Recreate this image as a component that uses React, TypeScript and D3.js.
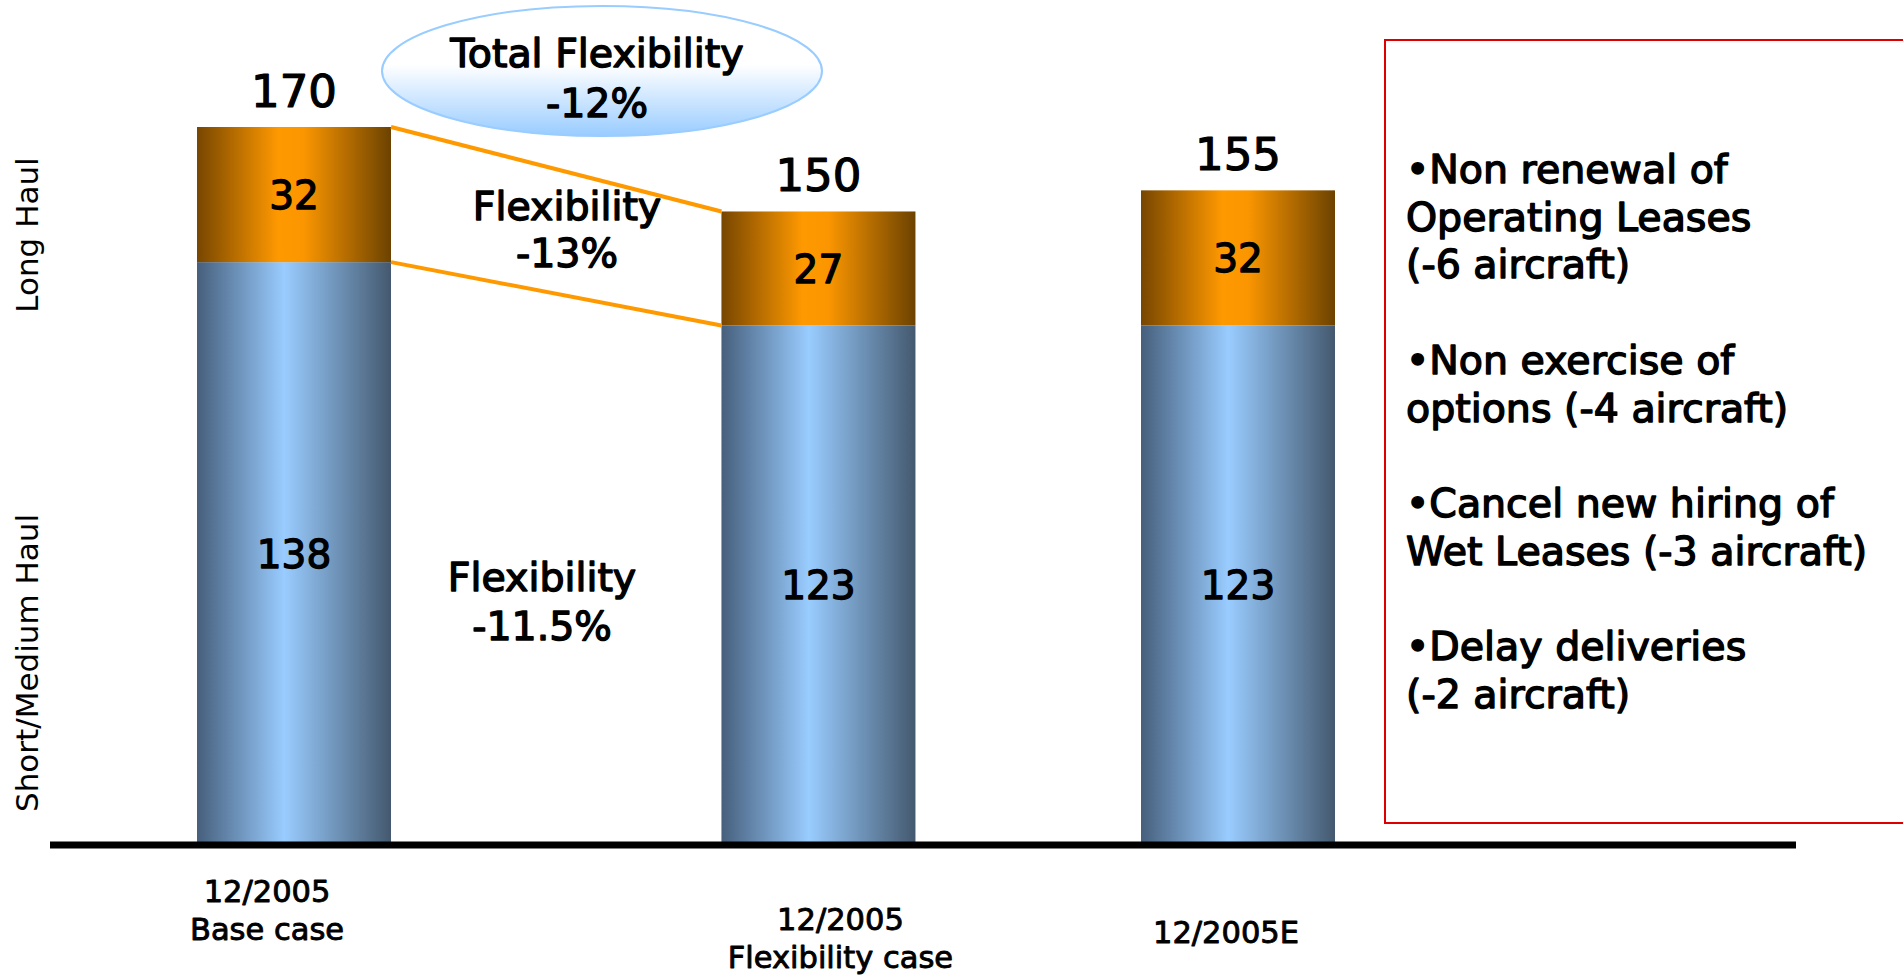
import React from 'react';
import * as d3 from 'd3';

// ---------- data ----------
const categoryLines: string[][] = [['12/2005', 'Base case'], ['12/2005', 'Flexibility case'], ['12/2005E']];
const shortMediumHaul = [138, 123, 123];
const longHaul = [32, 27, 32];
const totals = [170, 150, 155];
const seriesNames = ['Short/Medium Haul', 'Long Haul'];
const totalFlexLines = ['Total Flexibility', '-12%'];
const longFlexLines = ['Flexibility', '-13%'];
const shortFlexLines = ['Flexibility', '-11.5%'];
const measures: string[][] = [
  ['•Non renewal of', 'Operating Leases', '(-6 aircraft)'],
  ['•Non exercise of', 'options (-4 aircraft)'],
  ['•Cancel new hiring of', 'Wet Leases (-3 aircraft)'],
  ['•Delay deliveries', '(-2 aircraft)'],
];

// ---------- layout ----------
const W = 1903;
const H = 975;
const BASE = 845;
const TOP = 127;
const barSlots = [0, 5, 9];
const barW = 194;
const catDx = [-27, 22, -12];
const catY = [902, 930, 943];
const FONT = '"DejaVu Sans", Verdana, sans-serif';

export default function App() {
  const rows = shortMediumHaul.map((s, i) => ({ i, short: s, long: longHaul[i] }));
  const stack = d3.stack<any>().keys(['short', 'long']);
  const series = stack(rows);

  const y = d3.scaleLinear().domain([0, d3.max(totals) as number]).range([BASE, TOP]);
  const x = d3.scaleLinear().domain([0, 9]).range([294, 1238]);
  const cx = (i: number) => x(barSlots[i]);

  const boldish = (w: number) => ({ fill: '#000', stroke: '#000', strokeWidth: w, paintOrder: 'stroke', strokeLinejoin: 'round' } as any);

  // connector lines between bar 1 and bar 2
  const connectors = [
    { x1: cx(0) + barW / 2, y1: y(totals[0]), x2: cx(1) - barW / 2, y2: y(totals[1]) },
    { x1: cx(0) + barW / 2, y1: y(shortMediumHaul[0]), x2: cx(1) - barW / 2, y2: y(shortMediumHaul[1]) },
  ];

  let lineIdx = 0;
  const measureLines: { text: string; k: number }[] = [];
  measures.forEach((g, gi) => {
    g.forEach((t) => {
      measureLines.push({ text: t, k: lineIdx });
      lineIdx += 1;
    });
    if (gi < measures.length - 1) lineIdx += 1;
  });

  return (
    <svg
      width={W}
      height={H}
      style={{ position: 'absolute', left: 0, top: 0, display: 'block', background: '#fff' }}
      fontFamily={FONT}
    >
      <defs>
        <linearGradient id="gBlue" x1="0" x2="1" y1="0" y2="0">
          <stop offset="0" stopColor="#465f7c" />
          <stop offset="0.45" stopColor="#99ccff" />
          <stop offset="1" stopColor="#44596f" />
        </linearGradient>
        <linearGradient id="gOrange" x1="0" x2="1" y1="0" y2="0">
          <stop offset="0" stopColor="#774600" />
          <stop offset="0.42" stopColor="#ff9900" />
          <stop offset="0.55" stopColor="#fb9600" />
          <stop offset="1" stopColor="#6c4200" />
        </linearGradient>
        <linearGradient id="gEllipse" x1="0" x2="0" y1="0" y2="1">
          <stop offset="0" stopColor="#ffffff" />
          <stop offset="0.45" stopColor="#ffffff" />
          <stop offset="1" stopColor="#99ccff" />
        </linearGradient>
      </defs>

      {/* y-axis series labels */}
      <text
        transform={`translate(38, 235) rotate(-90)`}
        textAnchor="middle"
        fontSize={31}
        fill="#000"
      >
        {seriesNames[1]}
      </text>
      <text
        transform={`translate(38, 663) rotate(-90)`}
        textAnchor="middle"
        fontSize={31}
        fill="#000"
      >
        {seriesNames[0]}
      </text>

      {/* bars */}
      {series.map((s, si) => (
        <g key={si}>
          {s.map((d, i) => (
            <rect
              key={i}
              x={cx(i) - barW / 2}
              y={y(d[1])}
              width={barW}
              height={y(d[0]) - y(d[1])}
              fill={si === 0 ? 'url(#gBlue)' : 'url(#gOrange)'}
            />
          ))}
        </g>
      ))}

      {/* baseline axis */}
      <line x1={50} x2={1796} y1={BASE} y2={BASE} stroke="#000" strokeWidth={7} />

      {/* connectors */}
      {connectors.map((c, i) => (
        <line key={i} x1={c.x1} y1={c.y1} x2={c.x2} y2={c.y2} stroke="#ff9900" strokeWidth={4} />
      ))}

      {/* segment labels */}
      {series.map((s, si) =>
        s.map((d, i) => (
          <text
            key={`${si}-${i}`}
            x={cx(i)}
            y={(y(d[0]) + y(d[1])) / 2}
            dy="0.36em"
            textAnchor="middle"
            fontSize={39}
            {...boldish(1.3)}
          >
            {d[1] - d[0]}
          </text>
        ))
      )}

      {/* totals */}
      {totals.map((t, i) => (
        <text key={i} x={cx(i)} y={y(t) - 20} textAnchor="middle" fontSize={45} {...boldish(1.2)}>
          {t}
        </text>
      ))}

      {/* category labels */}
      {categoryLines.map((lines, i) => (
        <text key={i} textAnchor="middle" fontSize={30.5} {...boldish(0.9)}>
          {lines.map((l, li) => (
            <tspan key={li} x={cx(i) + catDx[i]} y={catY[i] + li * 38}>
              {l}
            </tspan>
          ))}
        </text>
      ))}

      {/* total flexibility ellipse */}
      <ellipse cx={602} cy={71} rx={220} ry={65} fill="url(#gEllipse)" stroke="#99ccff" strokeWidth={2} />
      <text textAnchor="middle" fontSize={39.5} {...boldish(1.4)}>
        {totalFlexLines.map((l, li) => (
          <tspan key={li} x={597} y={67 + li * 50}>
            {l}
          </tspan>
        ))}
      </text>

      {/* long haul flexibility */}
      <text textAnchor="middle" fontSize={39.5} {...boldish(1.4)}>
        {longFlexLines.map((l, li) => (
          <tspan key={li} x={567} y={220 + li * 47}>
            {l}
          </tspan>
        ))}
      </text>

      {/* short haul flexibility */}
      <text textAnchor="middle" fontSize={39.5} {...boldish(1.4)}>
        {shortFlexLines.map((l, li) => (
          <tspan key={li} x={542} y={591 + li * 49}>
            {l}
          </tspan>
        ))}
      </text>

      {/* measures box */}
      <rect x={1385} y={40} width={600} height={783} fill="none" stroke="#dd0000" strokeWidth={2} />
      <text fontSize={39.5} {...boldish(1.4)}>
        {measureLines.map((m, i) => (
          <tspan key={i} x={1406} y={183 + m.k * 47.7}>
            {m.text}
          </tspan>
        ))}
      </text>
    </svg>
  );
}
